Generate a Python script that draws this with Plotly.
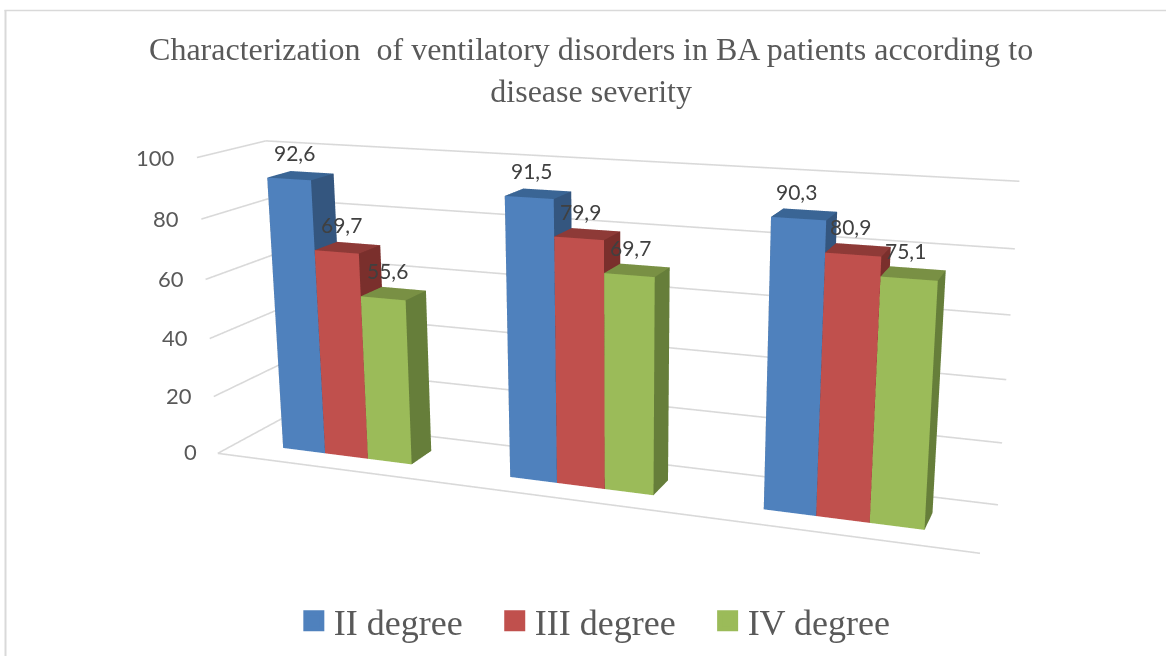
import plotly.graph_objects as go

categories = ["Group 1", "Group 2", "Group 3"]
series_names = ["II degree", "III degree", "IV degree"]
ii_degree = [92.6, 91.5, 90.3]
iii_degree = [69.7, 79.9, 80.9]
iv_degree = [55.6, 69.7, 75.1]
y_ticks = [0, 20, 40, 60, 80, 100]
front_colors = ["#4F81BD", "#C0504D", "#9BBB59"]
side_colors = ["#34567F", "#7A2F2C", "#667E3A"]
top_colors = ["#3A6595", "#8E3A37", "#799044"]

# The reference is a perspective picture taken with a much narrower lens than
# Plotly's fixed one, so the scene is sheared to reproduce its vanishing points.
EYE = (0.36972, -1.7, 0.98296)
CENTER = (0.01954, 0.03332, 0.05359)
UP = (-0.01128, 0.06502, 0.99782)
SCALE = (2.04785, 0.19767, 0.78229)
S_XY, S_XZ, S_YZ = 0.04303, -0.02944, 1.41141
R = (1.0, 2.0, 1.0)
GROUP_W = 0.193
DEPTH = (0.305, 0.66)
LEGEND_PAD = "\u00a0\u00a0\u00a0"


def sx(x, y, v):
    return x + S_XY * y + S_XZ * v / 100


def sy(y, v):
    return y + S_YZ * v / 100


fig = go.Figure()


def line3d(p, q):
    fig.add_trace(go.Scatter3d(
        x=[sx(p[0], p[1], p[2]), sx(q[0], q[1], q[2])],
        y=[sy(p[1], p[2]), sy(q[1], q[2])],
        z=[p[2], q[2]],
        mode="lines", line=dict(color="#D9D9D9", width=3.2),
        showlegend=False, hoverinfo="skip"))


for t in y_ticks:
    line3d((0, 0, t), (0, 1, t))
    line3d((0, 1, t), (1, 1, t))
line3d((0, 0, 0), (1, 0, 0))

series = [ii_degree, iii_degree, iv_degree]
annotations = []
for s, values in enumerate(series):
    xs, ys, zs, ii, jj, kk, fc = [], [], [], [], [], [], []
    for g, v in enumerate(values):
        x0 = (g + 0.5) / len(categories) - GROUP_W / 2 + s * GROUP_W / 3
        x1 = x0 + GROUP_W / 3
        y0, y1 = DEPTH
        b = len(xs)
        for (x, y, z) in [(x0, y0, 0), (x1, y0, 0), (x1, y1, 0), (x0, y1, 0),
                          (x0, y0, v), (x1, y0, v), (x1, y1, v), (x0, y1, v)]:
            xs.append(sx(x, y, z))
            ys.append(sy(y, z))
            zs.append(z)
        for (q, col) in [((0, 1, 5, 4), front_colors[s]),
                         ((1, 2, 6, 5), side_colors[s]),
                         ((4, 5, 6, 7), top_colors[s]),
                         ((0, 3, 7, 4), side_colors[s]),
                         ((3, 2, 6, 7), side_colors[s])]:
            ii += [b + q[0], b + q[0]]
            jj += [b + q[1], b + q[2]]
            kk += [b + q[2], b + q[3]]
            fc += [col, col]
        xm, ym = (x0 + x1) / 2 - 0.009, (y0 + y1) / 2
        annotations.append(dict(
            x=sx(xm, ym, v), y=sy(ym, v), z=v,
            text=f"{v:.1f}".replace(".", ","), showarrow=False,
            yanchor="bottom", yshift=8,
            font=dict(family="Lato", size=21, color="#404040")))
    fig.add_trace(go.Mesh3d(
        x=xs, y=ys, z=zs, i=ii, j=jj, k=kk, facecolor=fc, flatshading=True,
        lighting=dict(ambient=1, diffuse=0, specular=0, fresnel=0, roughness=1),
        hoverinfo="skip", showlegend=False, name=series_names[s]))
    fig.add_trace(go.Scatter3d(
        x=[None], y=[None], z=[None], mode="markers",
        name=series_names[s] + (LEGEND_PAD if s < len(series) - 1 else ""),
        marker=dict(symbol="square", size=16, color=front_colors[s],
                    line=dict(color=front_colors[s], width=5))))

for t in y_ticks:
    annotations.append(dict(
        x=sx(-0.03, 0, t), y=sy(0, t), z=t, text=str(t), showarrow=False,
        xanchor="right", yshift=-1, font=dict(family="Lato", size=22, color="#595959")))


def axis(rng):
    return dict(range=rng, visible=False, showgrid=False, zeroline=False,
                showbackground=False, showspikes=False)


fig.update_layout(
    width=1166, height=656, margin=dict(l=0, r=0, t=0, b=0),
    paper_bgcolor="white", plot_bgcolor="white",
    title=dict(
        text="Characterization  of ventilatory disorders in BA patients according to<br>disease severity",
        x=0.507, xanchor="center", y=0.908, yanchor="top",
        font=dict(family="Liberation Serif", size=32, color="#595959")),
    legend=dict(orientation="h", x=0.252, xanchor="left", y=0.008, yanchor="bottom",
                font=dict(family="Liberation Serif", size=36, color="#595959"),
                itemsizing="trace", bgcolor="rgba(0,0,0,0)"),
    shapes=[
        dict(type="line", xref="paper", yref="paper", x0=5.5 / 1166, x1=5.5 / 1166,
             y0=0, y1=1 - 10 / 656, line=dict(color="#D9D9D9", width=2)),
        dict(type="line", xref="paper", yref="paper", x0=4.5 / 1166, x1=1,
             y0=1 - 10.5 / 656, y1=1 - 10.5 / 656, line=dict(color="#D9D9D9", width=1.5)),
    ],
    scene=dict(
        domain=dict(x=[0, 1], y=[0, 1]),
        xaxis=axis([0.5 - R[0], 0.5 + R[0]]),
        yaxis=axis([0.5 - R[1], 0.5 + R[1]]),
        zaxis=axis([50 - 100 * R[2], 50 + 100 * R[2]]),
        aspectmode="manual",
        aspectratio=dict(x=SCALE[0] * 2 * R[0], y=SCALE[1] * 2 * R[1], z=SCALE[2] * 2 * R[2]),
        camera=dict(eye=dict(x=EYE[0], y=EYE[1], z=EYE[2]),
                    center=dict(x=CENTER[0], y=CENTER[1], z=CENTER[2]),
                    up=dict(x=UP[0], y=UP[1], z=UP[2]),
                    projection=dict(type="perspective")),
        annotations=annotations,
    ),
)
fig.write_html("out.html", config={"displayModeBar": False},
               post_script="document.body.style.margin='0';")
